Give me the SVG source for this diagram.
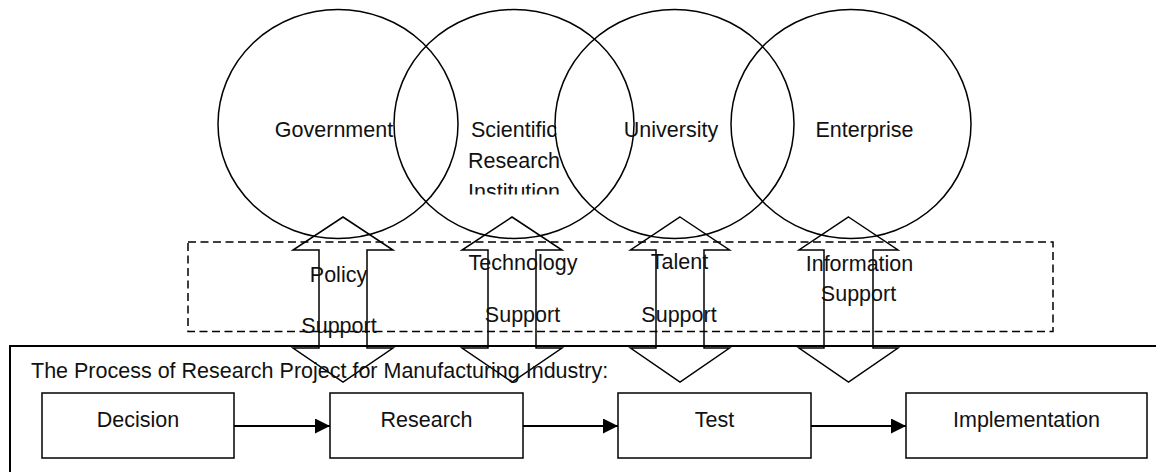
<svg xmlns="http://www.w3.org/2000/svg" width="1156" height="472" viewBox="0 0 1156 472">
<style>
.ln{fill:none;stroke:#000;stroke-width:1.5}
.dash{fill:none;stroke:#000;stroke-width:1.5;stroke-dasharray:8 4.5}
.frame{fill:none;stroke:#000;stroke-width:2}
.t{font-family:"Liberation Sans",Arial,sans-serif;font-size:21.5px;fill:#111}
.c{text-anchor:middle}
.conn{stroke:#000;stroke-width:2;fill:none}
</style>
<defs>
<marker id="ah" markerWidth="15" markerHeight="15" viewBox="0 0 15 15" refX="15" refY="7.5" orient="auto" markerUnits="userSpaceOnUse">
<path d="M0,0 L15,7.5 L0,15 Z" fill="#000"/>
</marker>
<clipPath id="clipInst"><rect x="0" y="0" width="1156" height="194.5"/></clipPath>
</defs>
<rect width="1156" height="472" fill="#fff"/>

<g id="government">
<ellipse class="ln" cx="338" cy="124" rx="120" ry="114.5"/>
<text class="t c" x="334" y="137">Government</text>
</g>
<g id="scientific-research-institution">
<ellipse class="ln" cx="514" cy="124" rx="120" ry="114.5"/>
<text class="t c" x="514" y="137">Scientific</text>
<text class="t c" x="514" y="168">Research</text>
<text class="t c" x="514" y="199" clip-path="url(#clipInst)">Institution</text>
</g>
<g id="university">
<ellipse class="ln" cx="674.5" cy="124" rx="119.5" ry="114.5"/>
<text class="t c" x="671" y="137">University</text>
</g>
<g id="enterprise">
<ellipse class="ln" cx="851" cy="124" rx="120" ry="114.5"/>
<text class="t c" x="864.5" y="137">Enterprise</text>
</g>

<g id="support-zone">
<rect class="dash" x="188" y="242" width="865" height="89.5"/>
</g>

<g id="policy-support">
<path class="ln" d="M343,217 L393,250 L367,250 L367,348 L393,348 L343,382 L293,348 L319,348 L319,250 L293,250 Z"/>
<text class="t c" x="338.5" y="282">Policy</text>
<text class="t c" x="339" y="333">Support</text>
</g>
<g id="technology-support">
<path class="ln" d="M512,217 L562,250 L536,250 L536,348 L562,348 L512,382 L462,348 L488,348 L488,250 L462,250 Z"/>
<text class="t c" x="523" y="270">Technology</text>
<text class="t c" x="522.5" y="322">Support</text>
</g>
<g id="talent-support">
<path class="ln" d="M680,217 L729.5,250 L704,250 L704,348 L729.5,348 L680,382 L630.5,348 L656,348 L656,250 L630.5,250 Z"/>
<text class="t c" x="679.5" y="269">Talent</text>
<text class="t c" x="679" y="322">Support</text>
</g>
<g id="information-support">
<path class="ln" d="M848.5,217 L898,250 L873,250 L873,348 L898,348 L848.5,382 L799,348 L824,348 L824,250 L799,250 Z"/>
<text class="t c" x="859.5" y="271">Information</text>
<text class="t c" x="858.5" y="301">Support</text>
</g>

<g id="process-frame">
<rect class="frame" x="10" y="346" width="1160" height="140"/>
<text class="t" x="31" y="378">The Process of Research Project for Manufacturing Industry:</text>
</g>

<g id="decision">
<rect class="ln" x="42" y="393" width="192" height="65"/>
<text class="t c" x="138" y="427">Decision</text>
</g>
<g id="research">
<rect class="ln" x="330" y="393" width="193" height="65"/>
<text class="t c" x="426.5" y="427">Research</text>
</g>
<g id="test">
<rect class="ln" x="618" y="393" width="193" height="65"/>
<text class="t c" x="714.5" y="427">Test</text>
</g>
<g id="implementation">
<rect class="ln" x="906" y="393" width="241" height="65"/>
<text class="t c" x="1026.5" y="427">Implementation</text>
</g>

<g id="connectors">
<line class="conn" x1="234" y1="426" x2="330" y2="426" marker-end="url(#ah)"/>
<line class="conn" x1="523" y1="426" x2="618" y2="426" marker-end="url(#ah)"/>
<line class="conn" x1="811" y1="426" x2="906" y2="426" marker-end="url(#ah)"/>
</g>
</svg>
